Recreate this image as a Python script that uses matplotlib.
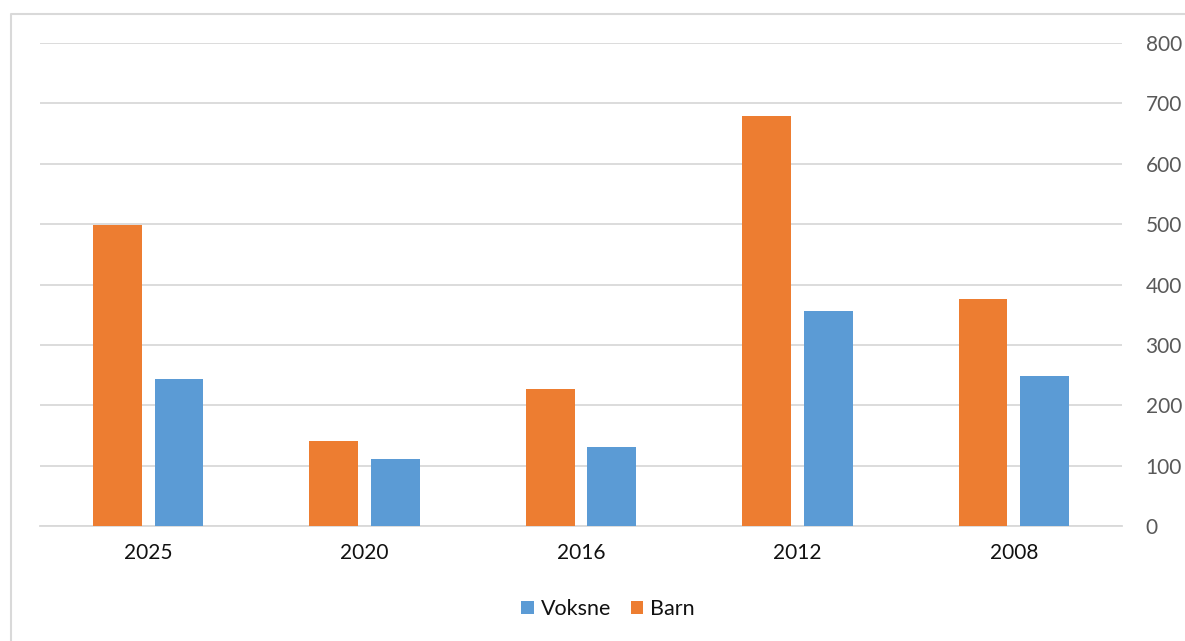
import numpy as np
import matplotlib.pyplot as plt
from matplotlib.lines import Line2D

# data
years = ['2025', '2020', '2016', '2012', '2008']
barn = [498, 142, 228, 679, 377]
voksne = [243, 112, 131, 356, 249]

plt.rcParams['font.family'] = ['Lato', 'DejaVu Sans']

fig = plt.figure(figsize=(11.85, 6.41), dpi=100)
ax = fig.add_axes([40 / 1185, 1 - 526.3 / 641, 1082 / 1185, (526.3 - 43) / 641])

# outer chart border (only top and left are visible in the reference)
bx, by = 10.5 / 1185, 1 - 13.5 / 641
fig.lines.append(Line2D([bx, bx, 1], [0, by, by], transform=fig.transFigure,
                        color='#d9d9d9', linewidth=1.5))

x = np.arange(len(years))
w = 0.226
off = 0.1425
ax.bar(x - off, barn, w, color='#ED7D31', label='Barn', zorder=3)
ax.bar(x + off, voksne, w, color='#5B9BD5', label='Voksne', zorder=3)

ax.set_xlim(-0.5, len(years) - 0.5)
ax.set_ylim(0, 800)
ax.set_yticks(range(0, 801, 100))
ax.yaxis.tick_right()
ax.tick_params(axis='y', length=0, pad=17, labelsize=15, labelcolor='#595959')
ax.tick_params(axis='x', length=0, pad=12, labelsize=15, labelcolor='#111111')
ax.set_xticks(x)
ax.set_xticklabels(years)
ax.grid(axis='y', color='#d9d9d9', linewidth=1.3, zorder=0)
for s in ['top', 'left', 'right']:
    ax.spines[s].set_visible(False)
ax.spines['bottom'].set_color('#d9d9d9')
ax.spines['bottom'].set_linewidth(1.3)

h, l = ax.get_legend_handles_labels()
leg = fig.legend(h[::-1], l[::-1], loc='center', bbox_to_anchor=(608 / 1185, 1 - 609 / 641),
                 ncol=2, frameon=False, fontsize=15.5, handlelength=0.6, handleheight=0.6,
                 handletextpad=0.3, columnspacing=0.9)
for t in leg.get_texts():
    t.set_color('#111111')

fig.savefig('out.png', dpi=100)
